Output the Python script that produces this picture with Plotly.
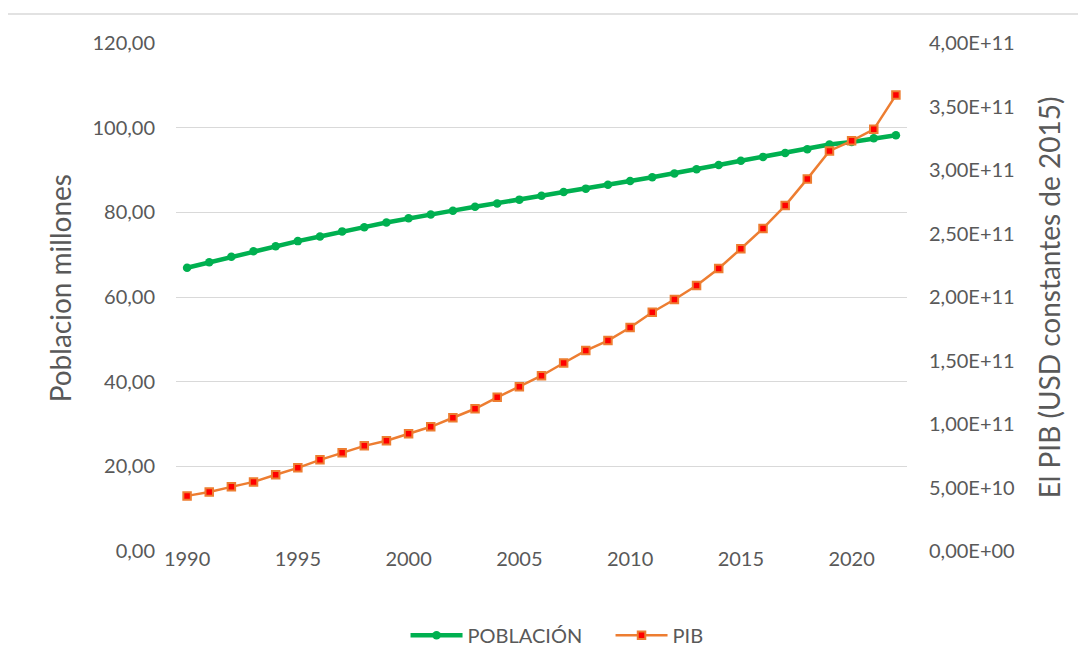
import plotly.graph_objects as go

years = list(range(1990, 2023))
poblacion = [66.9, 68.2, 69.5, 70.8, 72.0, 73.2, 74.3, 75.5, 76.5, 77.6,
             78.6, 79.5, 80.4, 81.3, 82.1, 83.0, 83.9, 84.8, 85.6, 86.5,
             87.4, 88.3, 89.2, 90.2, 91.2, 92.2, 93.1, 94.0, 94.9, 96.0,
             96.6, 97.5, 98.2]
pib = [4.34e10, 4.65e10, 5.05e10, 5.44e10, 6.00e10, 6.55e10, 7.18e10, 7.73e10,
       8.28e10, 8.68e10, 9.23e10, 9.78e10, 1.049e11, 1.12e11, 1.21e11, 1.294e11,
       1.38e11, 1.48e11, 1.578e11, 1.657e11, 1.76e11, 1.88e11, 1.98e11, 2.09e11,
       2.225e11, 2.38e11, 2.54e11, 2.72e11, 2.93e11, 3.15e11, 3.23e11, 3.32e11,
       3.59e11]

x_ticks = [1990, 1995, 2000, 2005, 2010, 2015, 2020]
left_ticks = [0, 20, 40, 60, 80, 100, 120]
left_labels = ["0,00", "20,00", "40,00", "60,00", "80,00", "100,00", "120,00"]
right_ticks = [0, 5e10, 1e11, 1.5e11, 2e11, 2.5e11, 3e11, 3.5e11, 4e11]
right_labels = ["0,00E+00", "5,00E+10", "1,00E+11", "1,50E+11", "2,00E+11",
                "2,50E+11", "3,00E+11", "3,50E+11", "4,00E+11"]

FONT = "Lato"
GREY = "#595959"
TS = 20

fig = go.Figure()
fig.add_trace(go.Scatter(
    x=years, y=poblacion, name="POBLACIÓN", mode="lines+markers",
    line=dict(color="#00B050", width=4.5),
    marker=dict(symbol="circle", size=8.5, color="#00B050"),
    yaxis="y"))
fig.add_trace(go.Scatter(
    x=years, y=pib, name="PIB", mode="lines+markers",
    line=dict(color="#ED7D31", width=2.5),
    marker=dict(symbol="square", size=7.5, color="#FF0000",
                line=dict(color="#ED7D31", width=2)),
    yaxis="y2"))

fig.update_layout(
    width=1078, height=650,
    margin=dict(l=168, r=179, t=35, b=107, autoexpand=False),
    paper_bgcolor="white", plot_bgcolor="white",
    font=dict(family=FONT, color=GREY, size=TS),
    showlegend=True,
    legend=dict(orientation="h", x=0.314, xanchor="left", y=-0.166,
                yanchor="middle", font=dict(size=TS, color=GREY),
                itemwidth=52, entrywidth=138, entrywidthmode="pixels",
                traceorder="normal"),
    xaxis=dict(range=[1989.5, 2022.5], tickvals=x_ticks, showgrid=False,
               zeroline=False, showline=False, ticks="",
               ticklabelstandoff=-6,
               tickfont=dict(size=TS, color=GREY)),
    yaxis=dict(range=[0, 120], tickvals=left_ticks, ticktext=left_labels,
               showgrid=True, gridcolor="#D9D9D9", gridwidth=1,
               zeroline=False, showline=False, ticks="",
               ticklabelstandoff=20, tickfont=dict(size=TS, color=GREY)),
    yaxis2=dict(range=[0, 4e11], tickvals=right_ticks, ticktext=right_labels,
                overlaying="y", side="right", showgrid=False, zeroline=False,
                showline=False, ticks="", ticklabelstandoff=21,
                tickfont=dict(size=TS, color=GREY)),
    annotations=[
        dict(text="Poblacion millones", textangle=-90, xref="paper", yref="paper",
             x=-0.1587, y=0.517, xanchor="center", yanchor="middle",
             showarrow=False, font=dict(size=28, color=GREY, family=FONT)),
        dict(text="El PIB (USD constantes de 2015)", textangle=-90, xref="paper",
             yref="paper", x=1.194, y=0.499, xanchor="center", yanchor="middle",
             showarrow=False, font=dict(size=28, color=GREY, family=FONT)),
    ],
    shapes=[dict(type="rect", xref="paper", yref="paper",
                 x0=-0.2326, x1=1.2367, y0=-0.229, y1=1.057,
                 line=dict(color="#D9D9D9", width=1.5))],
)

fig.write_html("out.html")
